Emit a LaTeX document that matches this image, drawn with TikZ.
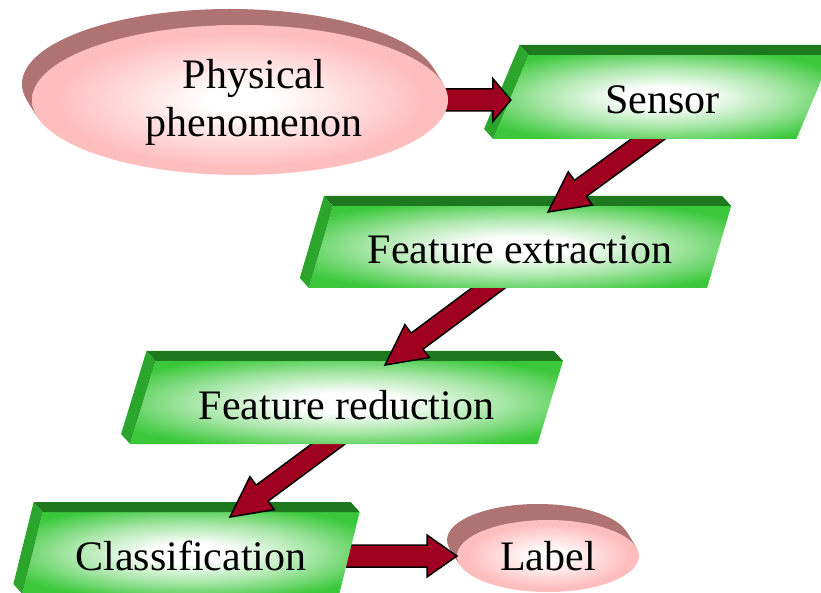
\documentclass[tikz,border=0pt]{standalone}
\usepackage{fontspec}
\setmainfont{Liberation Serif}
\usepackage{tikz}
\usetikzlibrary{shapes.geometric}
\usetikzlibrary{calc}

\definecolor{facegreen}{RGB}{58,200,58}
\definecolor{topgreen}{RGB}{30,120,30}
\definecolor{sidegreen}{RGB}{44,165,44}
\definecolor{facepink}{RGB}{255,190,190}
\definecolor{backpink}{RGB}{176,115,115}
\definecolor{arrowred}{RGB}{160,0,32}

\pgfdeclareradialshading{greenglow}{\pgfpoint{0bp}{0bp}}{color(0bp)=(white); color(6bp)=(white); color(18bp)=(facegreen!45!white); color(30bp)=(facegreen); color(50bp)=(facegreen)}
\pgfdeclareradialshading{pinkglow}{\pgfpoint{0bp}{0bp}}{color(0bp)=(white); color(4bp)=(white); color(22bp)=(facepink); color(50bp)=(facepink)}

% top and left faces of a slab
\newcommand{\slabfaces}[1]{
  \fill[topgreen] (#1.top left corner) -- (#1.top right corner) -- ++(-9,10) -- ($(#1.top left corner)+(-9,10)$) -- cycle;
  \fill[sidegreen] (#1.top left corner) -- ($(#1.top left corner)+(-9,10)$) -- ($(#1.bottom left corner)+(-9,10)$) -- (#1.bottom left corner) -- cycle;
}

% block arrow: tail, tip, half shaft, half head, head length
\newcommand{\fatarrow}[5]{
  \coordinate (hb) at ($(#2)!#5!(#1)$);
  \filldraw[redarrow] ($(#1)!#3!90:(#2)$) -- ($(hb)!#3!90:(#2)$) -- ($(hb)!#4!90:(#2)$) -- (#2)
    -- ($(hb)!#4!-90:(#2)$) -- ($(hb)!#3!-90:(#2)$) -- ($(#1)!#3!-90:(#2)$) -- cycle;
}

\begin{document}
\begin{tikzpicture}[x=1pt, y=1pt,
    font=\fontsize{42}{48}\selectfont,
    slab/.style={trapezium, trapezium stretches=true, shade, shading=greenglow, inner sep=0pt, outer sep=0pt, text height=34pt, text depth=0pt},
    disc/.style={ellipse, shade, shading=pinkglow, inner sep=0pt, outer sep=0pt},
    redarrow/.style={fill=arrowred, draw=black, line width=1.5pt, line join=miter}]
  \useasboundingbox (0,0) rectangle (821,592);

  \coordinate (c-sen) at (662.5,495);
  \coordinate (c-fe) at (520,345);
  \coordinate (c-fr) at (346.5,189.5);
  \coordinate (c-cl) at (191,39);
  \coordinate (c-lab) at (548,36);
  \coordinate (c-phen) at (240,492);

  % label
  \foreach \k in {8,7,...,1}
    \fill[backpink] ($(c-lab)+(-1.25*\k,2*\k)$) ellipse [x radius=91, y radius=36];
  \node[disc, minimum width=182pt, minimum height=72pt] (lab) at (c-lab) {Label};

  \coordinate (cl-out) at (c-cl |- lab.west);
  \fatarrow{cl-out}{lab.west}{11pt}{21pt}{30pt}

  \node[slab, trapezium left angle=65, trapezium right angle=115, minimum width=338pt, minimum height=82pt] (cl) at (c-cl) {Classification};
  \slabfaces{cl}

  \coordinate (fr-out) at ($(c-fr)+(11.5,-19.5)$);
  \coordinate (cl-in) at ($(cl.north)+(39,-5)$);
  \fatarrow{fr-out}{cl-in}{10pt}{20.5pt}{40pt}

  \node[slab, trapezium left angle=60, trapezium right angle=120, minimum width=433pt, minimum height=83pt] (fr) at (c-fr) {Feature reduction};
  \slabfaces{fr}

  \coordinate (fe-out) at ($(c-fe)+(-2,-19)$);
  \coordinate (fr-in) at ($(fr.north)+(38.5,-4)$);
  \fatarrow{fe-out}{fr-in}{10pt}{20.5pt}{40pt}

  \node[slab, trapezium left angle=60, trapezium right angle=120, minimum width=424pt, minimum height=82pt] (fe) at (c-fe) {Feature extraction};
  \slabfaces{fe}

  \coordinate (sen-out) at ($(c-sen)+(14.5,-21)$);
  \coordinate (fe-in) at ($(fe.north)+(28,-6)$);
  \fatarrow{sen-out}{fe-in}{10pt}{20.5pt}{40pt}

  \node[slab, trapezium left angle=66, trapezium right angle=114, minimum width=339pt, minimum height=84pt] (sen) at (c-sen) {Sensor};
  \slabfaces{sen}

  \coordinate (phen-out) at ($(c-phen)+(180,0)$);
  \coordinate (sen-in) at (sen.west |- c-phen);
  \fatarrow{phen-out}{sen-in}{11pt}{21.5pt}{18pt}

  % physical phenomenon
  \foreach \k in {8,7,...,1}
    \fill[backpink] ($(c-phen)+(-1.25*\k,2*\k)$) ellipse [x radius=208, y radius=75];
  \node[disc, minimum width=416pt, minimum height=150pt] (phen) at (c-phen) {};
  \node[align=center] (phen-txt) at (254,489.5) {Physical\\phenomenon};
\end{tikzpicture}
\end{document}
